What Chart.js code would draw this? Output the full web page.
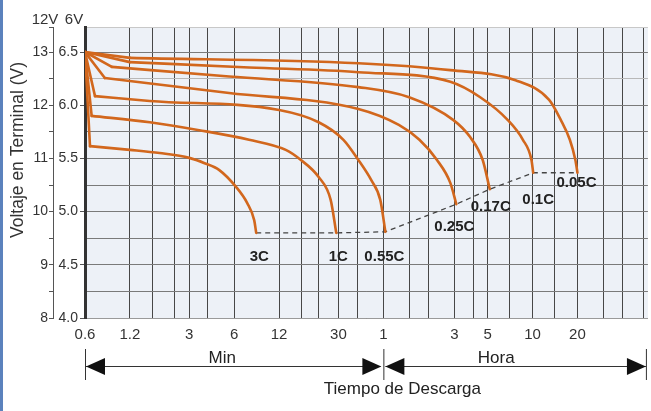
<!DOCTYPE html>
<html>
<head>
<meta charset="utf-8">
<title>Tiempo de Descarga</title>
<script src="https://cdn.jsdelivr.net/npm/chart.js@4.4.1/dist/chart.umd.min.js"></script>
<style>
  html, body { margin: 0; padding: 0; background: #fff; }
  #wrap { width: 651px; height: 411px; }
</style>
</head>
<body>
<div id="wrap"><canvas id="chart" width="651" height="411"></canvas></div>
<script>
// discharge rates, from fastest to slowest
const rates = ['3C', '1C', '0.55C', '0.25C', '0.17C', '0.1C', '0.05C'];

// time in minutes, voltage on the 12V scale
const t3C = [0.6, 0.648, 1.2, 1.9, 3.0, 3.8, 4.77, 6.19, 7.34, 8.17, 8.43];
const v3C = [13.0, 11.23, 11.16, 11.10, 11.01, 10.91, 10.78, 10.46, 10.16, 9.84, 9.60];

const t1C = [0.6, 0.665, 1.63, 3.5, 7.55, 13.3, 16.8, 22.1, 26.6, 29];
const v1C = [13.0, 11.80, 11.68, 11.53, 11.35, 11.16, 10.97, 10.65, 10.22, 9.60];

const t055C = [0.6, 0.70, 1.63, 12.0, 22.1, 32.4, 40.8, 49.8, 57.2, 61.9];
const v055C = [13.0, 12.17, 12.08, 11.91, 11.68, 11.35, 10.97, 10.59, 10.22, 9.62];

const t025C = [0.6, 0.815, 5.55, 40.8, 76.2, 104.7, 137.3, 168.6, 185];
const v025C = [13.0, 12.51, 12.23, 11.93, 11.63, 11.35, 10.97, 10.54, 10.14];

const t017C = [0.6, 0.908, 5.55, 40.8, 89.3, 177, 229, 278, 310];
const v017C = [13.0, 12.72, 12.54, 12.34, 12.15, 11.72, 11.40, 10.97, 10.42];

const t01C = [0.6, 1.2, 7.55, 40.8, 168.6, 267.5, 410, 517, 590, 606];
const v01C = [13.0, 12.81, 12.71, 12.62, 12.44, 12.15, 11.72, 11.35, 10.97, 10.73];

const t005C = [0.6, 1.2, 40.8, 168.6, 461, 775, 929, 1067, 1162, 1200];
const v005C = [13.0, 12.89, 12.79, 12.66, 12.47, 12.10, 11.72, 11.35, 10.97, 10.73];

// axis ticks
const gridMinutes = [0.6, 1.2, 1.7, 2.4, 3, 4, 6, 12, 17, 22, 30, 40, 60, 90, 120, 180, 240, 300, 420, 600, 840, 1200, 1800, 2400, 3300];
const labelMinutes = [0.6, 1.2, 3, 6, 12, 30, 60, 180, 300, 600, 1200];
const labelText = ['0.6', '1.2', '3', '6', '12', '30', '1', '3', '5', '10', '20'];
const ticks12 = [8, 8.5, 9, 9.5, 10, 10.5, 11, 11.5, 12, 12.5, 13];
const ticks6 = [4.0, 4.5, 5.0, 5.5, 6.0, 6.5];

const FONT = '"Liberation Sans", Arial, Helvetica, sans-serif';
const ORANGE = '#d2671d';
// where each rate label sits relative to the end of its curve
const labelOffset = [[3, 24], [2, 24], [-1, 25], [-2, 23], [1, 18], [5, 27], [-1, 10]];

const curves = [[t3C, v3C], [t1C, v1C], [t055C, v055C], [t025C, v025C], [t017C, v017C], [t01C, v01C], [t005C, v005C]];
const toPoints = (ts, vs) => ts.map((t, i) => ({ x: t, y: vs[i] }));

const lineStyle = {
    borderColor: ORANGE,
    borderWidth: 2.6,
    borderCapStyle: 'round',
    borderJoinStyle: 'round',
    pointRadius: 0,
    fill: false,
    order: 0,
    xAxisID: 'x',
    yAxisID: 'y12'
};

// the slow part of each curve: smooth
const datasets = curves.map((c, i) => Object.assign({}, lineStyle, {
    label: rates[i],
    data: toPoints(c[0], c[1]).slice(1),
    cubicInterpolationMode: 'monotone'
}));

// the first drop of each curve: straight
curves.forEach((c, i) => datasets.push(Object.assign({}, lineStyle, {
    label: rates[i] + ' inicio',
    data: toPoints(c[0], c[1]).slice(0, 2),
    tension: 0
})));

// cut-off line through the end of every curve
datasets.push({
    label: 'fin',
    data: curves.map(c => ({ x: c[0][c[0].length - 1], y: c[1][c[1].length - 1] })),
    borderColor: '#444',
    borderWidth: 1.3,
    borderDash: [5, 4],
    pointRadius: 0,
    tension: 0,
    order: 1,
    xAxisID: 'x',
    yAxisID: 'y12'
});

const decor = {
    id: 'decor',
    beforeDraw(chart) {
        const { ctx, chartArea: a } = chart;
        ctx.save();
        ctx.fillStyle = '#edf1f7';
        ctx.fillRect(a.left, a.top, a.right - a.left, a.bottom - a.top);
        ctx.restore();
    },
    afterDraw(chart) {
        const { ctx, chartArea: a } = chart;
        const xs = chart.scales.x;
        ctx.save();

        // blue edge on the left
        ctx.fillStyle = '#5b82bd';
        ctx.fillRect(0, 0, 3, chart.height);

        // axis headers
        ctx.fillStyle = '#333';
        ctx.font = '15px ' + FONT;
        ctx.textAlign = 'center';
        ctx.textBaseline = 'alphabetic';
        ctx.fillText('12V', 45, 24);
        ctx.fillText('6V', 74, 24);

        // y title
        ctx.save();
        ctx.translate(18, 150);
        ctx.rotate(-Math.PI / 2);
        ctx.font = '17.5px ' + FONT;
        ctx.textBaseline = 'middle';
        ctx.fillText('Voltaje en Terminal (V)', 0, 0);
        ctx.restore();

        // rate labels
        ctx.font = 'bold 15px ' + FONT;
        ctx.fillStyle = '#222';
        ctx.textBaseline = 'middle';
        rates.forEach((r, i) => {
            const pts = chart.getDatasetMeta(i).data;
            const p = pts[pts.length - 1];
            ctx.fillText(r, p.x + labelOffset[i][0], p.y + labelOffset[i][1]);
        });

        // Min / Hora arrows
        const x0 = xs.getPixelForValue(0.6);
        const x1 = xs.getPixelForValue(60);
        const x2 = a.right - 2;
        const ya = 366;
        ctx.strokeStyle = '#333';
        ctx.lineWidth = 1;
        [x0, x1, x2].forEach(x => {
            ctx.beginPath();
            ctx.moveTo(x + 0.5, 349);
            ctx.lineTo(x + 0.5, 380);
            ctx.stroke();
        });
        ctx.beginPath();
        ctx.moveTo(x0 + 1, ya + 0.5);
        ctx.lineTo(x1 - 3, ya + 0.5);
        ctx.moveTo(x1 + 2, ya + 0.5);
        ctx.lineTo(x2, ya + 0.5);
        ctx.stroke();
        ctx.fillStyle = '#111';
        const head = (tip, dir) => {
            ctx.beginPath();
            ctx.moveTo(tip, ya + 0.5);
            ctx.lineTo(tip - dir * 19, ya - 8);
            ctx.lineTo(tip - dir * 19, ya + 9);
            ctx.closePath();
            ctx.fill();
        };
        head(x0 + 1, -1);
        head(x1 - 2, 1);
        head(x1 + 2, -1);
        head(x2, 1);

        ctx.fillStyle = '#222';
        ctx.font = '17px ' + FONT;
        ctx.textBaseline = 'alphabetic';
        ctx.fillText('Min', x0 + (x1 - x0) * 0.46, 363);
        ctx.fillText('Hora', x1 + (x2 - x1) * 0.43, 363);
        ctx.fillText('Tiempo de Descarga', x1 + 19, 394);
        ctx.restore();
    }
};

new Chart(document.getElementById('chart'), {
    type: 'line',
    data: { datasets: datasets },
    options: {
        responsive: false,
        animation: false,
        devicePixelRatio: 1,
        layout: { padding: { top: 27, right: 0, bottom: 0, left: 0 } },
        plugins: { legend: { display: false }, tooltip: { enabled: false } },
        scales: {
            x: {
                type: 'logarithmic',
                min: 0.6,
                max: 3560,
                afterBuildTicks: s => { s.ticks = gridMinutes.map(v => ({ value: v })); },
                afterFit: s => { s.height = 93; },
                grid: { color: '#474747', lineWidth: 1, drawTicks: false },
                border: { display: true, color: '#9a9a9a' },
                ticks: {
                    autoSkip: false,
                    maxRotation: 0,
                    padding: 8,
                    color: '#333',
                    font: { family: FONT, size: 15 },
                    callback: v => {
                        const i = labelMinutes.indexOf(v);
                        return i < 0 ? '' : labelText[i];
                    }
                }
            },
            y6: {
                type: 'linear',
                position: 'left',
                weight: 1,
                min: 4,
                max: 6.735,
                afterBuildTicks: s => { s.ticks = ticks6.map(v => ({ value: v })); },
                afterFit: s => { s.width = 32; },
                grid: { drawOnChartArea: false, drawTicks: true, tickLength: 5, color: '#555' },
                border: { display: true, color: '#333', width: 3 },
                ticks: { padding: 2, color: '#333', font: { family: FONT, size: 14 }, callback: v => v.toFixed(1) }
            },
            y12: {
                type: 'linear',
                position: 'left',
                weight: 2,
                min: 8,
                max: 13.47,
                afterBuildTicks: s => { s.ticks = ticks12.concat([s.max]).map(v => ({ value: v })); },
                afterFit: s => { s.width = 53; },
                grid: {
                    drawOnChartArea: true,
                    drawTicks: true,
                    tickLength: 4,
                    tickColor: '#555',
                    color: c => {
                        const v = c.tick ? c.tick.value : 0;
                        if (v === 12.5) return '#b8b8b8';
                        if (v > 13) return '#c8c8c8';
                        return '#7a7a7a';
                    }
                },
                border: { display: true, color: '#555', width: 1 },
                ticks: {
                    padding: 1,
                    color: '#333',
                    font: { family: FONT, size: 14 },
                    callback: v => Number.isInteger(v) ? String(v) : ''
                }
            }
        }
    },
    plugins: [decor]
});
</script>
</body>
</html>
